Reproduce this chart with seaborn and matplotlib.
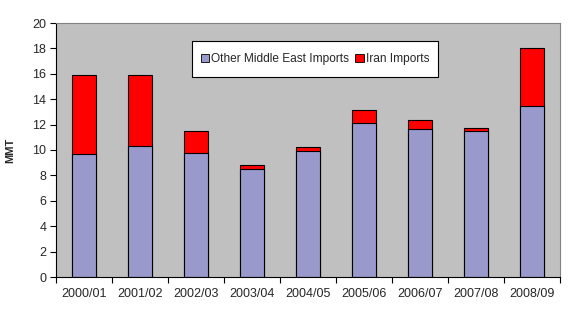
import matplotlib
matplotlib.use("Agg")
import matplotlib.pyplot as plt
import seaborn as sns
import pandas as pd
import numpy as np
from matplotlib.patches import Patch, Rectangle
from matplotlib.ticker import FixedLocator

categories = ["2000/01", "2001/02", "2002/03", "2003/04", "2004/05",
              "2005/06", "2006/07", "2007/08", "2008/09"]
other_me = [9.7, 10.3, 9.8, 8.5, 9.9, 12.1, 11.65, 11.5, 13.45]
iran = [6.2, 5.6, 1.7, 0.3, 0.3, 1.05, 0.7, 0.2, 4.55]

df = pd.DataFrame({"year": categories, "other": other_me, "iran": iran})
df["total"] = df["other"] + df["iran"]

sns.set_theme(style="white")
plt.rcParams["font.family"] = ["Liberation Sans", "DejaVu Sans"]

fig = plt.figure(figsize=(5.83, 3.16), dpi=100)
ax = fig.add_axes([56/583, 1 - 277/316, (560-56)/583, (277-23)/316])
ax.set_facecolor("#C0C0C0")

purple = "#9999CC"
red = "#FF0000"
sns.barplot(data=df, x="year", y="total", color=red, saturation=1,
            width=0.42, edgecolor="black", linewidth=0.8, ax=ax)
sns.barplot(data=df, x="year", y="other", color=purple, saturation=1,
            width=0.42, edgecolor="black", linewidth=0.8, ax=ax)

ax.set_ylim(0, 20)
ax.set_xlim(-0.5, len(categories) - 0.5)
ax.set_yticks(np.arange(0, 21, 2))
ax.tick_params(axis="y", labelsize=9, length=4, width=0.8, color="black",
               direction="out", left=True, pad=3)
ax.tick_params(axis="x", which="major", labelsize=9, length=0, pad=8)
ax.xaxis.set_minor_locator(FixedLocator(np.arange(-0.5, len(categories), 1)))
ax.tick_params(axis="x", which="minor", length=4, width=0.8, color="black",
               direction="out", bottom=True)
ax.set_xlabel("")
ax.set_ylabel("MMT", fontsize=8, fontweight="bold", labelpad=12)

for s in ["top", "right"]:
    ax.spines[s].set_color("#808080")
    ax.spines[s].set_linewidth(0.8)
for s in ["left", "bottom"]:
    ax.spines[s].set_color("black")
    ax.spines[s].set_linewidth(0.8)

# legend box (Excel-style, generous vertical padding)
box = Rectangle((0.270, 0.787), 0.488, 0.142, transform=ax.transAxes,
                facecolor="white", edgecolor="black", linewidth=0.8,
                zorder=4, clip_on=False)
ax.add_patch(box)

handles = [Patch(facecolor=purple, edgecolor="black", linewidth=0.6),
           Patch(facecolor=red, edgecolor="black", linewidth=0.6)]
leg = ax.legend(handles, ["Other Middle East Imports", "Iran Imports"],
                loc="center", bbox_to_anchor=(0.514, 0.858), ncol=2,
                fontsize=8.6, frameon=False,
                handlelength=0.7, handleheight=0.7,
                handletextpad=0.2, columnspacing=0.5, borderpad=0,
                borderaxespad=0)
leg.set_zorder(5)

fig.savefig("out.png", dpi=100)
